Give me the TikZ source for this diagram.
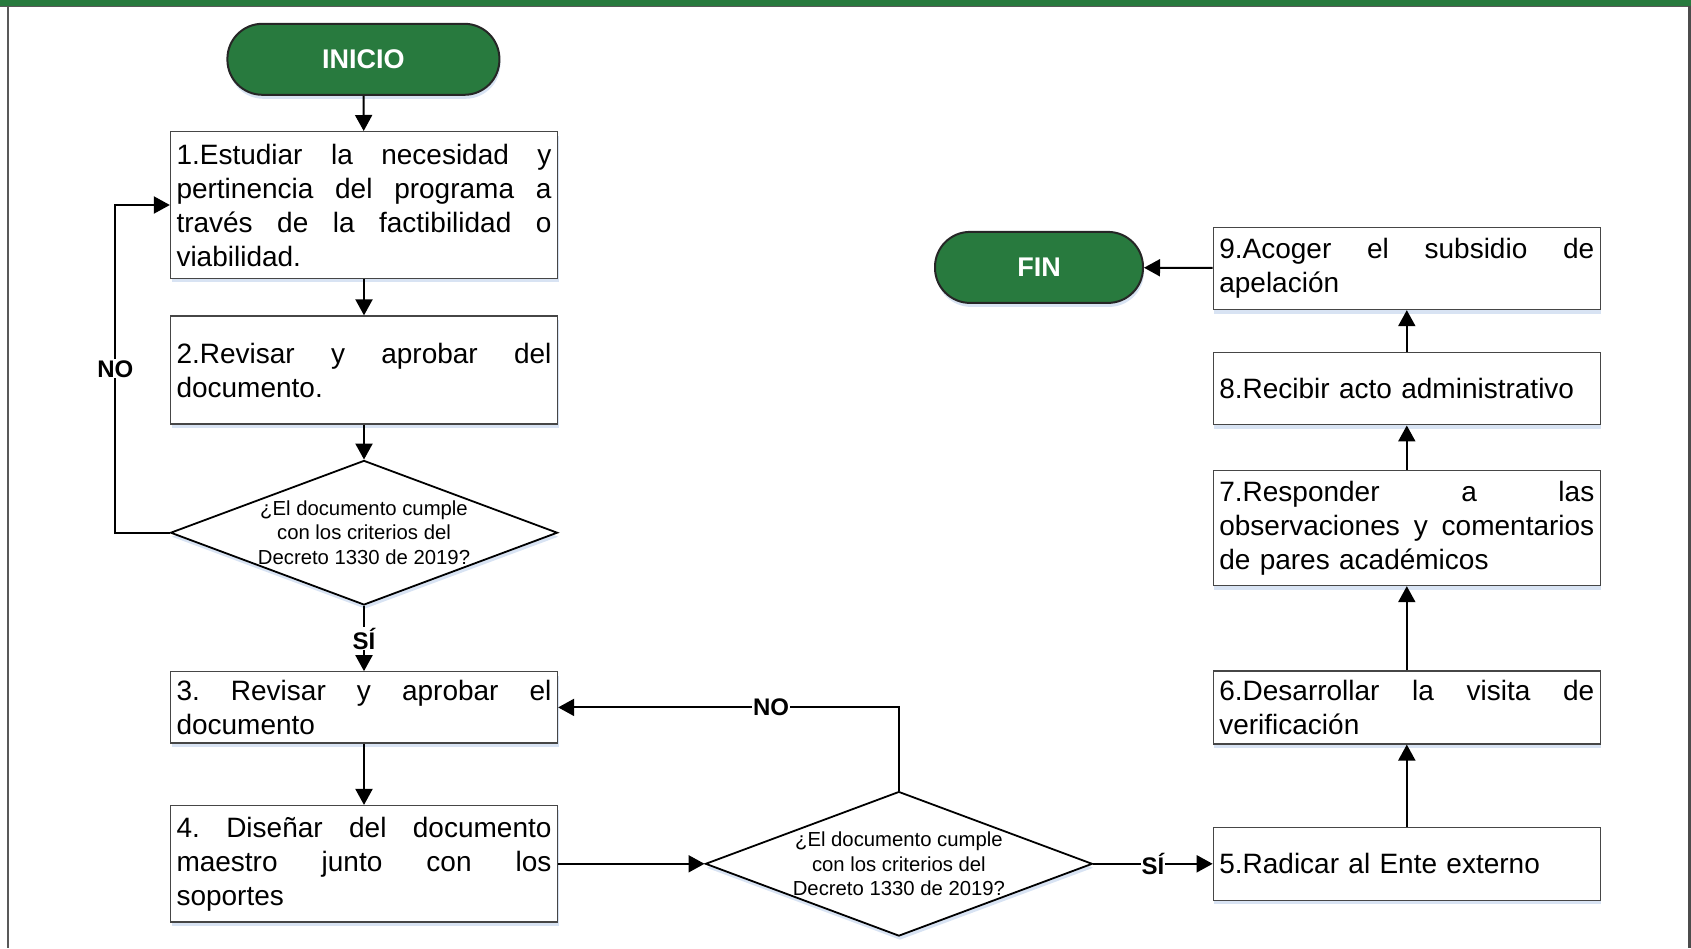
\documentclass[tikz,border=0pt]{standalone}
\usepackage{fontspec}
\setmainfont{Liberation Sans}
\usetikzlibrary{shapes.geometric,arrows.meta,shadows}
\definecolor{fgreen}{RGB}{40,122,62}
\definecolor{bordergray}{RGB}{70,70,70}
\definecolor{shadowblue}{RGB}{200,215,238}
\newcommand{\jl}[1]{\leavevmode\hbox to 375pt{#1}\\}
\newcommand{\gap}{\hfill}
\begin{document}
\begin{tikzpicture}[x=1pt,y=-1pt,
  box/.style={draw=bordergray, line width=1.3pt, fill=white, text width=375pt, align=left,
    inner xsep=6pt, inner ysep=0pt, minimum width=387pt,
    font=\fontsize{28}{34}\selectfont,
    drop shadow={shadow xshift=1pt, shadow yshift=-4pt, fill=shadowblue, opacity=0.7}},
  term/.style={draw=black!85, line width=2pt, fill=fgreen, rounded corners=35pt,
    minimum height=71pt, text=white, font=\bfseries\fontsize{27}{32}\selectfont,
    drop shadow={shadow xshift=1pt, shadow yshift=-4pt, fill=shadowblue, opacity=0.7}},
  dec/.style={diamond, draw=black, line width=1.8pt, fill=white, minimum width=387pt,
    minimum height=144.5pt, inner sep=0pt, shape aspect=2.68,
    drop shadow={shadow xshift=1pt, shadow yshift=-4pt, fill=shadowblue, opacity=0.7}},
  dtext/.style={align=center, font=\fontsize{20.3}{24.8}\selectfont, inner sep=0pt},
  arr/.style={line width=2pt, -{Triangle[length=16pt,width=17pt]}},
  lbl/.style={fill=white, font=\bfseries\fontsize{24}{28}\selectfont, inner sep=1pt}
]
\useasboundingbox (0,0) rectangle (1691,948);
% frame
\fill[fgreen] (0,0) rectangle (1691,6);
\draw[black!65, line width=1.2pt] (0,6.5) -- (1691,6.5);
\draw[black!65, line width=2pt] (7.5,6) -- (7.5,948);
\draw[black!70, line width=3pt] (1689.5,6) -- (1689.5,948);

% nodes
\node[term, minimum width=272pt] (inicio) at (363.4,59.3) {INICIO};
\node[box, minimum height=146.7pt] (b1) at (364,205) {\jl{1.Estudiar\gap la\gap necesidad\gap y}\jl{pertinencia\gap del\gap programa\gap a}\jl{través\gap de\gap la\gap factibilidad\gap o}viabilidad.};
\node[box, minimum height=108pt] (b2) at (364,370) {\jl{2.Revisar\gap y\gap aprobar\gap del}documento.};
\node[dec] (d1) at (364,532.7) {};
\node[dtext] (d1t) at (d1.center) {¿El documento cumple\\con los criterios del\\Decreto 1330 de 2019?};
\node[box, minimum height=71.2pt] (b3) at (364,707.4) {\jl{3.\gap Revisar\gap y\gap aprobar\gap el}documento};
\node[box, minimum height=116.5pt] (b4) at (364,863.8) {\jl{4.\gap Diseñar\gap del\gap documento}\jl{maestro\gap junto\gap con\gap los}soportes};
\node[dec] (d2) at (898.9,863.8) {};
\node[dtext] (d2t) at (d2.center) {¿El documento cumple\\con los criterios del\\Decreto 1330 de 2019?};
\node[box, minimum height=73.3pt] (b5) at (1406.8,863.8) {5.Radicar al Ente externo};
\node[box, minimum height=73pt] (b6) at (1406.8,707.4) {\jl{6.Desarrollar\gap la\gap visita\gap de}verificación};
\node[box, minimum height=115pt] (b7) at (1406.8,528) {\jl{7.Responder\gap a\gap las}\jl{observaciones\gap y\gap comentarios}de pares académicos};
\node[box, minimum height=72pt] (b8) at (1406.8,388.8) {8.Recibir acto administrativo};
\node[box, minimum height=82pt] (b9) at (1406.8,268.5) {\jl{9.Acoger\gap el\gap subsidio\gap de}apelación};
\node[term, minimum width=208pt] (fin) at (1039,267.4) {FIN};

% connectors
\draw[arr] (inicio) -- (b1);
\draw[arr] (b1) -- (b2);
\draw[arr] (b2) -- (d1);
\draw[arr] (d1) -- node[lbl]{SÍ} (b3);
\coordinate (c1) at (115.4,532.7);
\coordinate (c2) at (115.4,205);
\draw[arr] (d1.west) -- (c1) -- node[lbl]{NO} (c2) -- (b1.west |- c2);
\draw[arr] (b3) -- (b4);
\draw[arr] (b4) -- (d2);
\coordinate (c3) at (898.9,707.4);
\draw[arr] (d2.north) -- (c3) -- node[lbl,pos=0.375]{NO} (b3.east);
\draw[arr] (d2) -- node[lbl]{SÍ} (b5);
\draw[arr] (b5) -- (b6);
\draw[arr] (b6) -- (b7);
\draw[arr] (b7) -- (b8);
\draw[arr] (b8) -- (b9);
\draw[arr] (b9) -- (fin);
\end{tikzpicture}
\end{document}
